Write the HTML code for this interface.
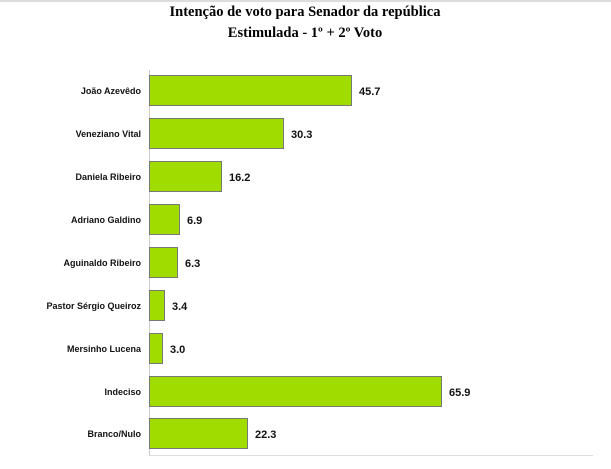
<!DOCTYPE html><html><head><meta charset="utf-8"><style>
html,body{margin:0;width:611px;height:469px;overflow:hidden}
body{background:#fff;position:relative;font-family:"Liberation Sans",sans-serif}
svg{display:block}
</style></head><body>
<svg width="611" height="469" viewBox="0 0 611 469" style="position:absolute;left:0;top:0">
<line x1="0" y1="1" x2="611" y2="1" stroke="#ddd" stroke-width="2"/>
<text x="305" y="16" text-anchor="middle" font-family="Liberation Serif,serif" font-weight="bold" font-size="14.5">Intenção de voto para Senador da república</text>
<text x="305" y="37" text-anchor="middle" font-family="Liberation Serif,serif" font-weight="bold" font-size="14.5">Estimulada - 1º + 2º Voto</text>
<line x1="149.5" y1="70" x2="149.5" y2="455" stroke="#ccc"/>
<line x1="149" y1="455.5" x2="593" y2="455.5" stroke="#ddd"/>
<g fill="#a0dc00" stroke="#777" stroke-width="1">
<rect x="149.5" y="75.5" width="202" height="30"/>
<rect x="149.5" y="118.5" width="134" height="30"/>
<rect x="149.5" y="161.5" width="72" height="30"/>
<rect x="149.5" y="204.5" width="30" height="30"/>
<rect x="149.5" y="247.5" width="28" height="30"/>
<rect x="149.5" y="290.5" width="15" height="30"/>
<rect x="149.5" y="333.5" width="13" height="30"/>
<rect x="149.5" y="376.5" width="292" height="30"/>
<rect x="149.5" y="418.5" width="98" height="30"/>
</g>
<g font-size="9" font-weight="bold" text-anchor="end" fill="#111">
<text x="141" y="94">João Azevêdo</text>
<text x="141" y="137">Veneziano Vital</text>
<text x="141" y="180">Daniela Ribeiro</text>
<text x="141" y="223">Adriano Galdino</text>
<text x="141" y="266">Aguinaldo Ribeiro</text>
<text x="141" y="309">Pastor Sérgio Queiroz</text>
<text x="141" y="352">Mersinho Lucena</text>
<text x="141" y="395">Indeciso</text>
<text x="141" y="437">Branco/Nulo</text>
</g>
<g font-size="11" font-weight="bold" fill="#111">
<text x="359" y="95">45.7</text>
<text x="291" y="138">30.3</text>
<text x="229" y="181">16.2</text>
<text x="187" y="224">6.9</text>
<text x="185" y="267">6.3</text>
<text x="172" y="310">3.4</text>
<text x="170" y="353">3.0</text>
<text x="449" y="396">65.9</text>
<text x="255" y="438">22.3</text>
</g>
</svg>
</body></html>
